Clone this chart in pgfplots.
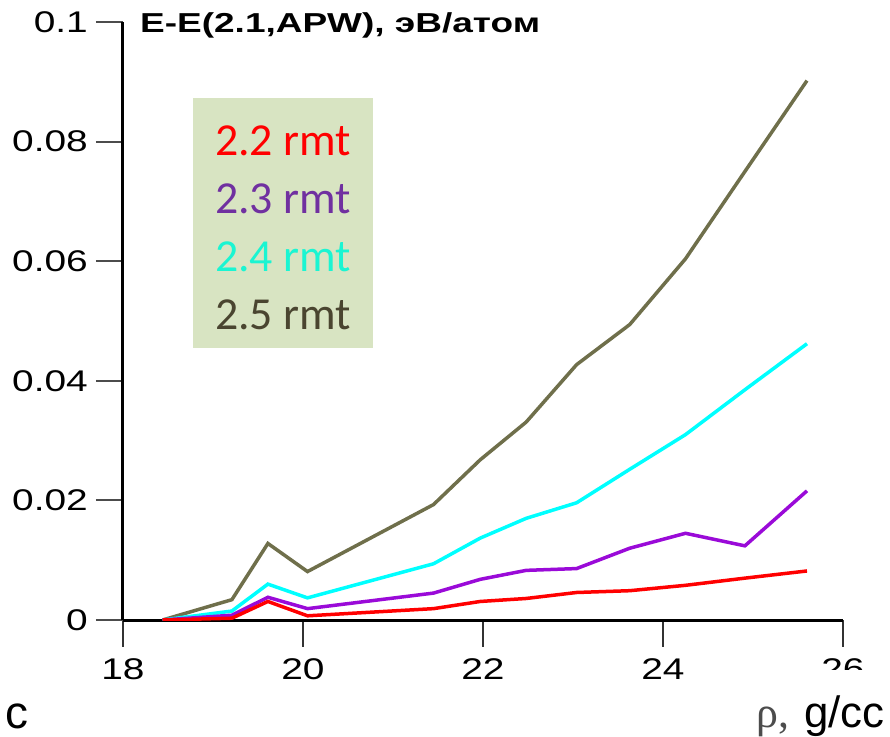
\documentclass[border=0pt]{standalone}
\usepackage{pgfplots}
\pgfplotsset{compat=1.18}
\usepackage{fontspec}
\setmainfont{Liberation Sans}
\newfontfamily\wide[FakeStretch=1.3]{Liberation Sans}
\newfontfamily\widet[FakeStretch=1.35]{Liberation Sans}
\newfontfamily\carlito{Carlito}
\newfontfamily\serifg{Liberation Serif}
\definecolor{cOlive}{HTML}{6F6F4B}
\definecolor{cCyan}{HTML}{00FFFF}
\definecolor{cPurple}{HTML}{9A0AD8}
\definecolor{cRed}{HTML}{FF0000}
\definecolor{legbg}{HTML}{D8E4C2}
\definecolor{tRed}{HTML}{FF0000}
\definecolor{tPurple}{HTML}{7030A0}
\definecolor{tCyan}{HTML}{1AF5D2}
\definecolor{tDark}{HTML}{4A4530}
\begin{document}
\begin{tikzpicture}
\useasboundingbox (-123bp,-117bp) rectangle (767bp,620bp);
\begin{axis}[
  at={(0,0)}, anchor=south west,
  scale only axis, width=720bp, height=598bp,
  xmin=18, xmax=26, ymin=0, ymax=0.1,
  axis x line*=bottom, axis y line*=left,
  axis line style={line width=3bp, black, -},
  xtick={18,20,22,24,26},
  xticklabels={18,20,22,24,26},
  ytick={0,0.02,0.04,0.06,0.08,0.1},
  yticklabels={0,0.02,0.04,0.06,0.08,0.1},
  minor tick num=0,
  tick align=outside,
  major tick length=27bp,
  x tick style={line width=2bp, black!80},
  y tick style={line width=2bp, black!70},
  ticklabel style={font=\wide\fontsize{30}{32}\selectfont, inner sep=0pt},
  xticklabel style={yshift=-11bp},
  yticklabel style={xshift=-8bp},
  reverse legend,
  legend image code/.code={},
  legend cell align=left,
  legend style={at={(rel axis cs:0.0972,0.873)}, anchor=north west,
    fill=legbg, draw=none, inner xsep=22bp, inner ysep=9bp,
    font=\carlito\fontsize{46}{50}\selectfont,
    nodes={inner sep=0pt, text height=48bp, text depth=10bp}},
]
\addplot[cOlive, line width=3.5bp] coordinates {
 (18.44,0) (19.21,0.0034) (19.61,0.0128) (20.05,0.0081) (21.45,0.0193)
 (21.97,0.0268) (22.48,0.0331) (23.04,0.0427) (23.63,0.0494) (24.25,0.0604)
 (24.91,0.0750) (25.60,0.0902)};
\addlegendentry{\textcolor{tDark}{2.5 rmt}}
\addplot[cCyan, line width=3.5bp] coordinates {
 (18.44,0) (19.21,0.0015) (19.61,0.0060) (20.05,0.0037) (21.45,0.0094)
 (21.97,0.0137) (22.48,0.0170) (23.04,0.0196) (23.63,0.0252) (24.25,0.0310)
 (24.91,0.0385) (25.60,0.0462)};
\addlegendentry{\textcolor{tCyan}{2.4 rmt}}
\addplot[cPurple, line width=3.5bp] coordinates {
 (18.44,0) (19.21,0.0008) (19.61,0.0038) (20.05,0.0019) (21.45,0.0045)
 (21.97,0.0068) (22.48,0.0083) (23.04,0.0086) (23.63,0.0120) (24.25,0.0145)
 (24.91,0.0124) (25.60,0.0216)};
\addlegendentry{\textcolor{tPurple}{2.3 rmt}}
\addplot[cRed, line width=3.5bp] coordinates {
 (18.44,0) (19.21,0.0003) (19.61,0.0031) (20.05,0.0007) (21.45,0.0019)
 (21.97,0.0031) (22.48,0.0036) (23.04,0.0046) (23.63,0.0049) (24.25,0.0058)
 (24.91,0.0070) (25.60,0.0082)};
\addlegendentry{\textcolor{tRed}{2.2 rmt}}
\end{axis}
% cover lower part of the cropped "26" label, as in the reference
\fill[white] (696bp,-80bp) rectangle (745bp,-50bp);
\node[anchor=base west, inner sep=0pt] at (17bp,587bp)
  {\widet\bfseries\fontsize{27.5}{30}\selectfont E-E(2.1,APW), эВ/атом};
\node[anchor=base east, inner sep=0pt] at (762bp,-107bp)
  {\fontsize{44}{48}\selectfont{\serifg\color{black!70}ρ,}\,\,g/cc};
\node[anchor=base west, inner sep=0pt] at (-118bp,-108bp)
  {\fontsize{46}{48}\selectfont c};
\end{tikzpicture}
\end{document}
